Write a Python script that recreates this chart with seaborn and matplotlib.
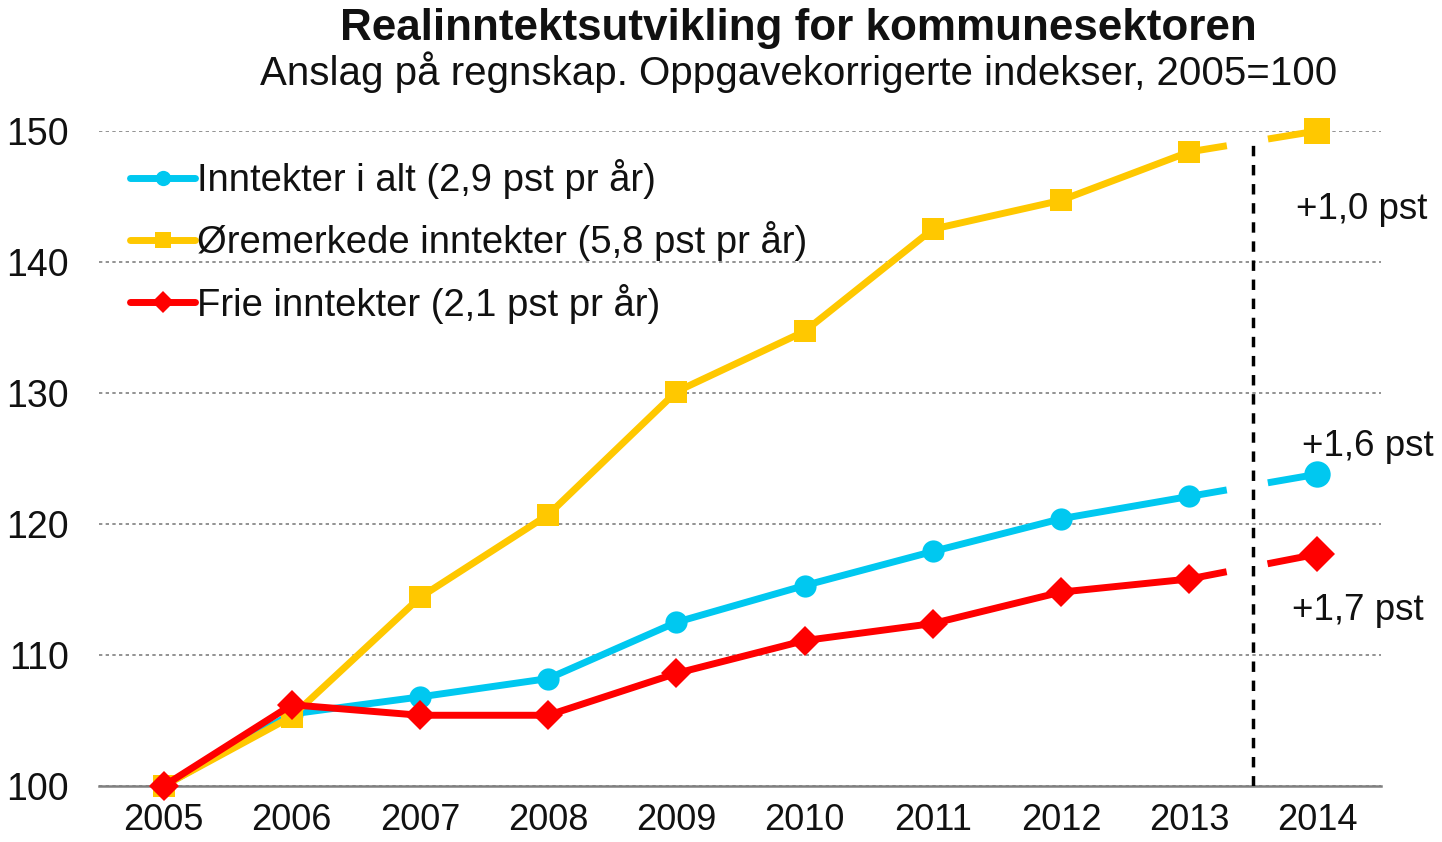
import matplotlib
matplotlib.use("Agg")
import matplotlib.pyplot as plt
import seaborn as sns
import pandas as pd
from matplotlib.lines import Line2D

# data (index, 2005=100)
years = [2005, 2006, 2007, 2008, 2009, 2010, 2011, 2012, 2013, 2014]
inntekter_alt = [100, 105.5, 106.8, 108.2, 112.5, 115.3, 117.9, 120.4, 122.1, 123.8]
oremerkede = [100, 105.3, 114.4, 120.7, 130.1, 134.7, 142.5, 144.7, 148.4, 150.0]
frie = [100, 106.2, 105.4, 105.4, 108.6, 111.1, 112.4, 114.8, 115.8, 117.7]

labels = ["Inntekter i alt (2,9 pst pr år)",
          "Øremerkede inntekter (5,8 pst pr år)",
          "Frie inntekter (2,1 pst pr år)"]
colors = ["#00C8F0", "#FFC800", "#FF0000"]
markers = ["o", "s", "D"]
growth_text = ["+1,6 pst", "+1,0 pst", "+1,7 pst"]
text_pos = [(2013.88, 125.9), (2013.83, 144.0), (2013.80, 113.4)]

sns.set_theme(style="white")
plt.rcParams["font.family"] = ["Liberation Sans", "DejaVu Sans"]

fig = plt.figure(figsize=(14.42, 8.42), dpi=100)
ax = fig.add_axes([0.069, 0.0665, 0.889, 0.778])

series = [inntekter_alt, oremerkede, frie]
zorders = [3, 4, 5]
msizes = [16, 16, 15]
for vals, lab, col, mk, z, ms in zip(series, labels, colors, markers, zorders, msizes):
    df = pd.DataFrame({"year": years, "value": vals})
    hist = df[df.year <= 2013]
    proj = df[df.year >= 2013]
    sns.lineplot(data=hist, x="year", y="value", color=col, lw=5, marker=mk,
                 markersize=ms, markeredgewidth=0, ax=ax, zorder=z, clip_on=False)
    ln = sns.lineplot(data=proj, x="year", y="value", color=col, lw=5, ax=ax,
                      zorder=z, clip_on=False)
    ln.lines[-1].set_dashes([5.5, 6])
    ax.plot(proj.year.iloc[-1], proj.value.iloc[-1], marker=mk, color=col,
            markersize=ms + 3, markeredgewidth=0, zorder=z, clip_on=False)

for txt, (tx, ty) in zip(growth_text, text_pos):
    ax.text(tx, ty, txt, fontsize=26.5, ha="left", va="center", color="#111111")

ax.axvline(2013.5, ymin=0, ymax=0.985, color="black", lw=2.5, dashes=(3, 2.5), zorder=6)

ax.set_xlim(2004.5, 2014.5)
ax.set_ylim(100, 150)
ax.set_xticks(years)
ax.set_xticks([y + 0.5 for y in [2004] + years], minor=True)
ax.set_yticks([100, 110, 120, 130, 140, 150])
ax.tick_params(axis="x", which="major", length=0, pad=12, labelsize=26, colors="#111111")
ax.tick_params(axis="x", which="minor", length=7, width=1.5, color="#808080")
ax.tick_params(axis="y", length=0, pad=22, labelsize=27, colors="#111111")
ax.set_xlabel("")
ax.set_ylabel("")
ax.yaxis.grid(True, linestyle=(0, (2, 2)), color="#808080", lw=1.2)
ax.set_axisbelow(True)
for s in ["top", "right", "left"]:
    ax.spines[s].set_visible(False)
ax.spines["bottom"].set_color("#808080")
ax.spines["bottom"].set_linewidth(1.8)
ax.spines["bottom"].set_zorder(2)

handles = [Line2D([0], [0], color=c, lw=5, marker=m, markersize=11, markeredgewidth=0)
           for c, m in zip(colors, markers)]
ax.legend(handles, labels, loc="upper left", bbox_to_anchor=(0.012, 0.98), frameon=False,
          fontsize=27.5, handlelength=1.7, handletextpad=0.05, labelspacing=0.58,
          borderaxespad=0, labelcolor="#111111")

fig.text(0.554, 0.966, "Realinntektsutvikling for kommunesektoren", fontsize=31.7,
         fontweight="bold", ha="center", va="center", color="#111111")
fig.text(0.554, 0.914, "Anslag på regnskap. Oppgavekorrigerte indekser, 2005=100",
         fontsize=29, ha="center", va="center", color="#111111")

plt.savefig("out.png", dpi=100)
